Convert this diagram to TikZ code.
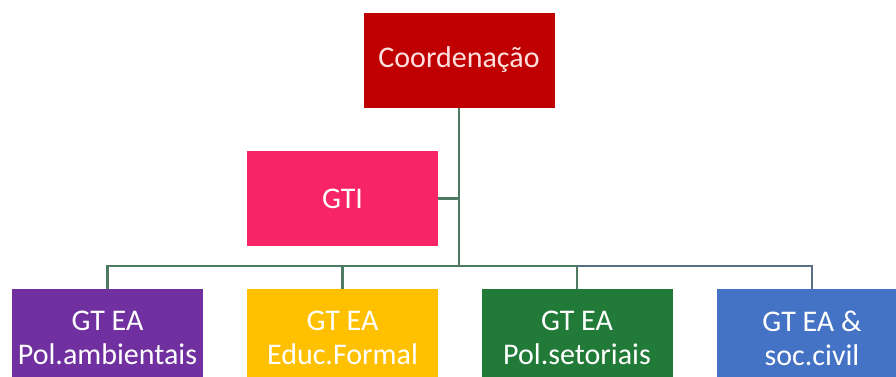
\documentclass[tikz,border=0pt]{standalone}
\usepackage{fontspec}
\setmainfont{Carlito}
\definecolor{cRed}{HTML}{C00000}
\definecolor{cPink}{HTML}{F72468}
\definecolor{cPurple}{HTML}{7030A0}
\definecolor{cGold}{HTML}{FFC000}
\definecolor{cGreen}{HTML}{217A37}
\definecolor{cBlue}{HTML}{4472C4}
\definecolor{cLine}{HTML}{4F7A62}
\definecolor{cLineB}{HTML}{5A6E86}
\begin{document}
\begin{tikzpicture}[x=1pt,y=-1pt,
  box/.style={draw=none,minimum width=191pt,minimum height=95pt,inner sep=0pt,
    text=white,font=\fontsize{30}{34}\selectfont,align=center},
  tallbox/.style={box,minimum height=98pt,anchor=north},
  link/.style={draw=cLine,line width=2.2pt}]
\useasboundingbox (0,0) rectangle (896,376);
\clip (0,0) rectangle (896,376);
\fill[white] (0,0) rectangle (896,376);
\node[box,fill=cRed,text=white!88!red] (coord) at (459,60) {Coordenação};
\node[box,fill=cPink] (gti) at (342.5,198.5) {GTI};
\node[tallbox,fill=cPurple] (b1) at (107.5,289) {GT EA\\Pol.ambientais};
\node[tallbox,fill=cGold] (b2) at (342.5,289) {GT EA\\Educ.Formal};
\node[tallbox,fill=cGreen] (b3) at (577,289) {GT EA\\Pol.setoriais};
\node[tallbox,fill=cBlue] (b4) at (812,289) {GT EA \&\\soc.civil};
\coordinate (bus) at (459,266);
\draw[link] (coord.south) -- (bus);
\draw[link] (gti.east) -- (gti.east -| bus);
\draw[link] (bus) -| (b1.north);
\draw[link] (bus -| b2.north) -- (b2.north);
\draw[link] (bus) -| (b3.north);
\draw[link,draw=cLineB] (bus -| b3.north) -| (b4.north);
\end{tikzpicture}
\end{document}
